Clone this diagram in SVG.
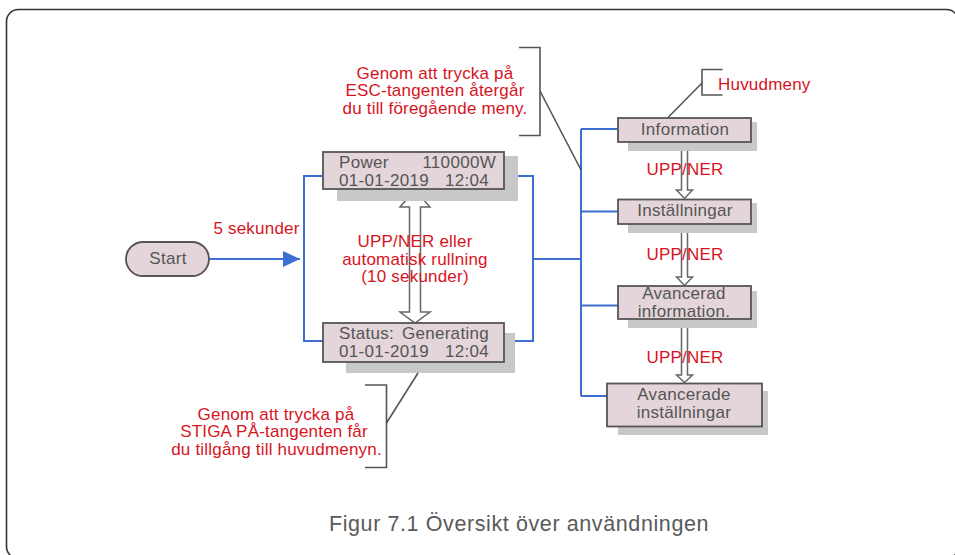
<svg xmlns="http://www.w3.org/2000/svg" width="955" height="555" viewBox="0 0 955 555">
<defs>
<style>
.box{fill:#e3d5d9;stroke:#555;stroke-width:1.8}
.sh{fill:#c8c8c8}
.t{font-family:"Liberation Sans",Arial,sans-serif;font-size:17px;fill:#555;letter-spacing:0.3px}
.r{font-family:"Liberation Sans",Arial,sans-serif;font-size:17px;fill:#d7141e;text-anchor:middle;letter-spacing:0.2px}
.c{fill:none;stroke:#3c6fd1;stroke-width:2}
.br{fill:none;stroke:#555;stroke-width:1.6}
.da{fill:#fff;stroke:#666;stroke-width:1.5}
</style>
<marker id="ah" markerWidth="18" markerHeight="16" refX="17" refY="8" orient="auto" markerUnits="userSpaceOnUse">
<path d="M0,0 L17,8 L0,16 Z" fill="#3c6fd1"/>
</marker>
</defs>
<rect width="955" height="555" fill="#fff"/>
<rect x="6.5" y="9.5" width="952" height="549" rx="12" fill="none" stroke="#333" stroke-width="1.6"/>

<g id="connectors">
<path class="c" d="M209,259 H300" marker-end="url(#ah)"/>
<path class="c" d="M323,176 H304 V341 H323"/>
<path class="c" d="M504,176 H533 V341 H504"/>
<path class="c" d="M533,259 H581"/>
<path class="c" d="M581,129 V396"/>
<path class="c" d="M581,129 H618 M581,211.5 H618 M581,305.5 H618 M581,396 H607"/>
<polygon class="da" points="415,190 430,207 420.5,207 420.5,312 430,312 415,323 400,312 409.5,312 409.5,207 400,207"/>
<polygon class="da" points="684.5,142.5 692.5,150 687.5,150 687.5,190 692.5,190 684.5,198.5 676.5,190 681.5,190 681.5,150 676.5,150"/>
<polygon class="da" points="684.5,224.5 692.5,232 687.5,232 687.5,277 692.5,277 684.5,285.5 676.5,277 681.5,277 681.5,232 676.5,232"/>
<polygon class="da" points="684.5,319.5 692.5,327 687.5,327 687.5,375 692.5,375 684.5,382.5 676.5,375 681.5,375 681.5,327 676.5,327"/>
</g>

<g id="start">
<rect class="box" x="126" y="242" width="83" height="34" rx="17"/>
<text class="t" x="168" y="264" text-anchor="middle">Start</text>
</g>

<g id="power">
<rect class="sh" x="337" y="156" width="181" height="45"/>
<rect class="box" x="323" y="152" width="181" height="37"/>
<text class="t" x="339" y="168">Power</text>
<text class="t" x="496" y="168" text-anchor="end">110000W</text>
<text class="t" x="339" y="186">01-01-2019</text>
<text class="t" x="489" y="186" text-anchor="end">12:04</text>
</g>

<g id="status">
<rect class="sh" x="346" y="333" width="169" height="40"/>
<rect class="box" x="323" y="323" width="181" height="39"/>
<text class="t" x="339" y="339">Status:</text>
<text class="t" x="489" y="339" text-anchor="end">Generating</text>
<text class="t" x="339" y="356.5">01-01-2019</text>
<text class="t" x="489" y="356.5" text-anchor="end">12:04</text>
</g>

<g id="information">
<rect class="sh" x="628" y="122" width="129" height="29"/>
<rect class="box" x="618" y="118" width="133" height="24"/>
<text class="t" x="685" y="135" text-anchor="middle">Information</text>
</g>

<g id="installningar">
<rect class="sh" x="628" y="203" width="129" height="30"/>
<rect class="box" x="618" y="199.5" width="133" height="24.5"/>
<text class="t" x="685" y="216" text-anchor="middle">Inställningar</text>
</g>

<g id="avancerad-information">
<rect class="sh" x="628" y="291" width="129" height="37"/>
<rect class="box" x="618" y="286" width="133" height="33"/>
<text class="t" x="684" y="299" text-anchor="middle">Avancerad</text>
<text class="t" x="684" y="316.5" text-anchor="middle">information.</text>
</g>

<g id="avancerade-installningar">
<rect class="sh" x="618" y="391" width="150" height="44"/>
<rect class="box" x="607" y="383.5" width="155" height="43"/>
<text class="t" x="684" y="400" text-anchor="middle">Avancerade</text>
<text class="t" x="684" y="417.5" text-anchor="middle">inställningar</text>
</g>

<g id="labels">
<text class="r" x="256.5" y="234">5 sekunder</text>
<text class="r" x="415" y="247">UPP/NER eller</text>
<text class="r" x="415" y="264.5">automatisk rullning</text>
<text class="r" x="415" y="282">(10 sekunder)</text>
<text class="r" x="685" y="175">UPP/NER</text>
<text class="r" x="685" y="259.5">UPP/NER</text>
<text class="r" x="685" y="362.5">UPP/NER</text>
</g>

<g id="esc-note">
<path class="br" d="M519,47.5 H540 V135.5 H519"/>
<path class="br" d="M540,91 L581,170"/>
<text class="r" x="435" y="78.5">Genom att trycka på</text>
<text class="r" x="435" y="96">ESC-tangenten återgår</text>
<text class="r" x="435" y="113.5">du till föregående meny.</text>
</g>

<g id="huvudmeny-note">
<path class="br" d="M722.5,69.5 H702 V95 H722.5"/>
<path class="br" d="M702,83 L668,117.5"/>
<text class="r" x="718" y="89.5" style="text-anchor:start">Huvudmeny</text>
</g>

<g id="enter-note">
<path class="br" d="M365,385 H386.5 V467.5 H365"/>
<path class="br" d="M386.5,423 L418,373"/>
<text class="r" x="276" y="419.5">Genom att trycka på</text>
<text class="r" x="274" y="437">STIGA PÅ-tangenten får</text>
<text class="r" x="276.5" y="454.5">du tillgång till huvudmenyn.</text>
</g>

<text x="519" y="530.5" text-anchor="middle" style="font-family:'Liberation Sans',Arial,sans-serif;font-size:21.5px;fill:#5a5a5a;letter-spacing:0.6px">Figur 7.1 Översikt över användningen</text>
</svg>
